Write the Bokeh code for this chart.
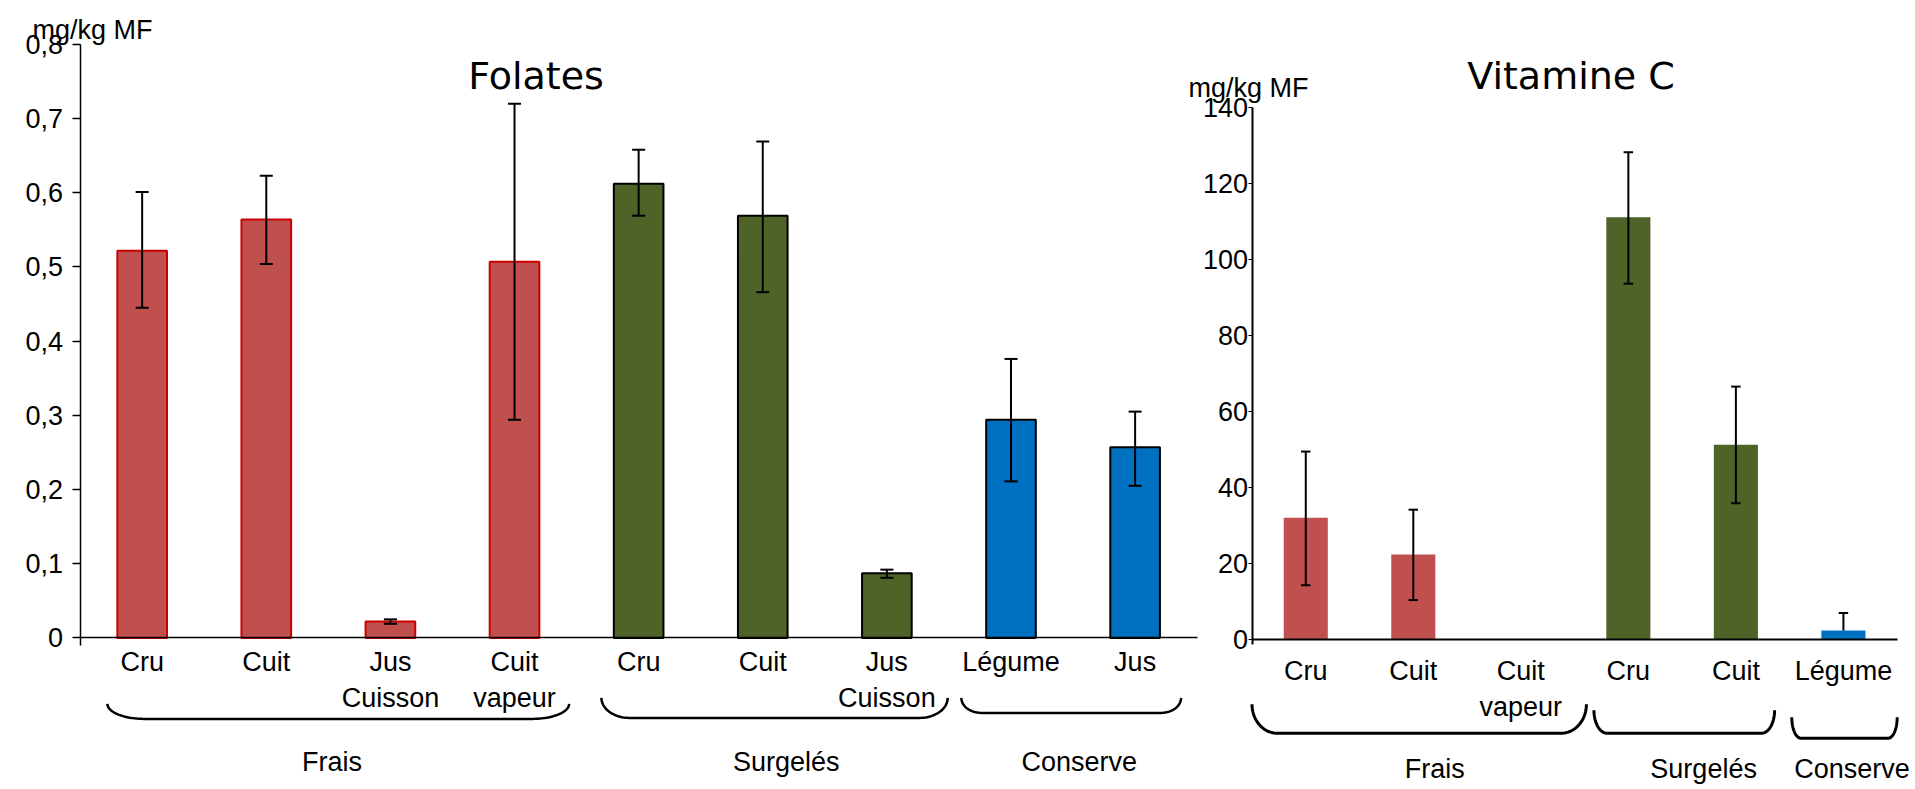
import numpy as np
from bokeh.plotting import figure
from bokeh.models import ColumnDataSource, Range1d, LinearAxis, FixedTicker, CustomJSTickFormatter
from bokeh.core.properties import value
from bokeh.embed import file_html
from bokeh.resources import INLINE

# ---------------- data ----------------
nan = float("nan")

folate_labels = ["Cru", "Cuit", "Jus\nCuisson", "Cuit\nvapeur",
                 "Cru", "Cuit", "Jus\nCuisson", "Légume", "Jus"]
folate_groups = ["Frais", "Frais", "Frais", "Frais",
                 "Surgelés", "Surgelés", "Surgelés", "Conserve", "Conserve"]
folate_values = [0.522, 0.564, 0.022, 0.507, 0.612, 0.569, 0.087, 0.294, 0.257]
folate_low = [0.445, 0.504, 0.019, 0.294, 0.569, 0.466, 0.081, 0.211, 0.205]
folate_high = [0.601, 0.623, 0.025, 0.720, 0.658, 0.669, 0.092, 0.376, 0.305]
folate_ticks = [0, 0.1, 0.2, 0.3, 0.4, 0.5, 0.6, 0.7, 0.8]

vitc_labels = ["Cru", "Cuit", "Cuit\nvapeur", "Cru", "Cuit", "Légume"]
vitc_groups = ["Frais", "Frais", "Frais", "Surgelés", "Surgelés", "Conserve"]
vitc_values = [32.0, 22.3, nan, 111.1, 51.2, 2.3]
vitc_low = [14.2, 10.3, nan, 93.6, 35.8, 2.3]
vitc_high = [49.4, 34.1, nan, 128.2, 66.5, 6.9]
vitc_ticks = [0, 20, 40, 60, 80, 100, 120, 140]

group_names = ["Frais", "Surgelés", "Conserve"]
unit_label = "mg/kg MF"

# ---------------- styling / layout ----------------
FILL = {"Frais": "#C0504D", "Surgelés": "#4F6228", "Conserve": "#0070C0"}
EDGE = {"Frais": "#CC0000", "Surgelés": "#000000", "Conserve": "#000000"}
FONT = value("Liberation Sans")
TITLE_FONT = value("DejaVu Sans")

W, H = 1915, 789
# left panel: x pixel of first slot edge, slot width, pixel row of zero, pixels per unit
LX0, LSLOT, LY0, LPPU = 79.6, 124.12, 637.4, 741.9
# right panel
RX0, RSLOT, RY0, RPPU = 1251.5, 107.53, 638.7, 3.7986


def lx(px):
    return (px - LX0) / LSLOT


def ly(py):
    return (LY0 - py) / LPPU


def rx(px):
    return (px - RX0) / RSLOT


def ry(py):
    return (RY0 - py) / RPPU


# bracket spans in slot units, and their vertical extent / corner size in px
folate_brackets = [(0.22, 3.94, 66, 81, 37), (4.20, 6.99, 60, 80, 28), (7.10, 8.87, 60, 75, 20)]
vitc_brackets = [(0.0, 3.11, 65, 94, 25), (3.18, 4.86, 71, 94, 13), (5.02, 6.0, 78, 99, 9)]
folate_group_x = [2.03, 5.69, 8.05]
vitc_group_x = [1.70, 4.20, 5.58]

p = figure(width=W, height=H, output_backend="svg", toolbar_location=None,
           x_range=Range1d(lx(0), lx(W)), y_range=Range1d(ly(H), ly(0)),
           x_axis_type=None, y_axis_type=None, min_border=0, title_location=None)
p.extra_x_ranges = {"vc": Range1d(rx(0), rx(W))}
p.extra_y_ranges = {"vc": Range1d(ry(H), ry(0))}
p.outline_line_color = None
p.background_fill_color = "white"
p.border_fill_color = "white"


def error_source(xs, vals, lows, highs, cap):
    x0, y0, x1, y1 = [], [], [], []
    for x, v, lo, hi in zip(xs, vals, lows, highs):
        if np.isnan(v):
            continue
        x0 += [x, x - cap / 2]
        y0 += [lo, hi]
        x1 += [x, x + cap / 2]
        y1 += [hi, hi]
        if lo < v:
            x0.append(x - cap / 2)
            y0.append(lo)
            x1.append(x + cap / 2)
            y1.append(lo)
    return ColumnDataSource(dict(x0=x0, y0=y0, x1=x1, y1=y1))


def bracket_paths(spans, slot_px, ppu, npts=24):
    xs, ys = [], []
    t = np.linspace(0, np.pi / 2, npts)
    for xa, xb, top_px, bot_px, r_px in spans:
        r = r_px / slot_px
        ytop = -top_px / ppu
        depth = (bot_px - top_px) / ppu
        left_x = xa + r - r * np.cos(t)
        left_y = ytop - depth * np.sin(t)
        right_x = xb - r + r * np.sin(t)
        right_y = ytop - depth * np.cos(t)
        xs.append(list(np.concatenate([left_x, right_x])))
        ys.append(list(np.concatenate([left_y, right_y])))
    return xs, ys


# ---------------- Folates (left) ----------------
fx = [i + 0.5 for i in range(len(folate_values))]
fsrc = ColumnDataSource(dict(x=fx, top=folate_values,
                             fill=[FILL[g] for g in folate_groups],
                             edge=[EDGE[g] for g in folate_groups]))
p.vbar(x="x", top="top", bottom=0, width=0.4, source=fsrc,
       fill_color="fill", line_color="edge", line_width=2)
p.segment(x0="x0", y0="y0", x1="x1", y1="y1", line_color="black", line_width=2,
          source=error_source(fx, folate_values, folate_low, folate_high, 0.105))

p.text(x=fx, y=[0] * len(fx), text=folate_labels, text_align="center", text_baseline="top",
       y_offset=9, text_font=FONT, text_font_size="27px", text_color="black",
       text_line_height=1.2)

bx, by = bracket_paths(folate_brackets, LSLOT, LPPU)
p.multi_line(xs=bx, ys=by, line_color="black", line_width=2.5)
p.text(x=folate_group_x, y=[0] * 3, text=group_names, text_align="center",
       text_baseline="middle", y_offset=124, text_font=FONT, text_font_size="27px",
       text_color="black")

p.text(x=[lx(535.5)], y=[ly(75)], text=["Folates"], text_align="center",
       text_baseline="alphabetic", text_font=TITLE_FONT, text_font_size="38px",
       text_color="black")
p.text(x=[lx(32)], y=[ly(29)], text=[unit_label], text_align="left",
       text_baseline="alphabetic", text_font=FONT, text_font_size="27px",
       text_color="black")

fy_axis = LinearAxis(fixed_location=0, bounds=(-0.0105, 0.8),
                     ticker=FixedTicker(ticks=folate_ticks),
                     formatter=CustomJSTickFormatter(
                         code="return tick === 0 ? '0' : tick.toFixed(1).replace('.', ',');"),
                     major_tick_in=0, major_tick_out=8, minor_tick_in=0, minor_tick_out=0,
                     major_label_standoff=9, major_label_text_font="Liberation Sans",
                     major_label_text_font_size="27px", major_label_text_color="black",
                     axis_line_width=1.5, major_tick_line_width=1.5)
p.add_layout(fy_axis, "left")
fx_axis = LinearAxis(fixed_location=0, bounds=(0, len(folate_values)),
                     ticker=FixedTicker(ticks=[]), major_label_text_font_size="0px",
                     major_tick_out=0, major_tick_in=0, minor_tick_out=0, minor_tick_in=0,
                     axis_line_width=1.5)
p.add_layout(fx_axis, "below")

# ---------------- Vitamine C (right) ----------------
vx = [i + 0.5 for i in range(len(vitc_values))]
vsrc = ColumnDataSource(dict(x=vx, top=vitc_values, fill=[FILL[g] for g in vitc_groups]))
p.vbar(x="x", top="top", bottom=0, width=0.41, source=vsrc, fill_color="fill",
       line_color=None, x_range_name="vc", y_range_name="vc")
p.segment(x0="x0", y0="y0", x1="x1", y1="y1", line_color="black", line_width=2,
          source=error_source(vx, vitc_values, vitc_low, vitc_high, 0.088),
          x_range_name="vc", y_range_name="vc")

p.text(x=vx, y=[0] * len(vx), text=vitc_labels, text_align="center", text_baseline="top",
       y_offset=17, text_font=FONT, text_font_size="27px", text_color="black",
       text_line_height=1.2, x_range_name="vc", y_range_name="vc")

bx, by = bracket_paths(vitc_brackets, RSLOT, RPPU)
p.multi_line(xs=bx, ys=by, line_color="black", line_width=3,
             x_range_name="vc", y_range_name="vc")
p.text(x=vitc_group_x, y=[0] * 3, text=group_names, text_align="center",
       text_baseline="middle", y_offset=130, text_font=FONT, text_font_size="27px",
       text_color="black", x_range_name="vc", y_range_name="vc")

p.text(x=[rx(1570.5)], y=[ry(75)], text=["Vitamine C"], text_align="center",
       text_baseline="alphabetic", text_font=TITLE_FONT, text_font_size="38px",
       text_color="black", x_range_name="vc", y_range_name="vc")
p.text(x=[rx(1188)], y=[ry(87)], text=[unit_label], text_align="left",
       text_baseline="alphabetic", text_font=FONT, text_font_size="27px",
       text_color="black", x_range_name="vc", y_range_name="vc")

vy_axis = LinearAxis(x_range_name="vc", y_range_name="vc", fixed_location=0,
                     bounds=(-1.4, 140), ticker=FixedTicker(ticks=vitc_ticks),
                     major_tick_in=0, major_tick_out=4, minor_tick_in=0, minor_tick_out=0,
                     major_label_standoff=0, major_label_text_font="Liberation Sans",
                     major_label_text_font_size="27px", major_label_text_color="black",
                     axis_line_width=2, major_tick_line_width=1)
p.add_layout(vy_axis, "left")
vx_axis = LinearAxis(x_range_name="vc", y_range_name="vc", fixed_location=0,
                     bounds=(0, len(vitc_values)), ticker=FixedTicker(ticks=[]),
                     major_label_text_font_size="0px", major_tick_out=0, major_tick_in=0,
                     minor_tick_out=0, minor_tick_in=0, axis_line_width=2)
p.add_layout(vx_axis, "below")

open("out.html", "w").write(file_html(p, INLINE))
